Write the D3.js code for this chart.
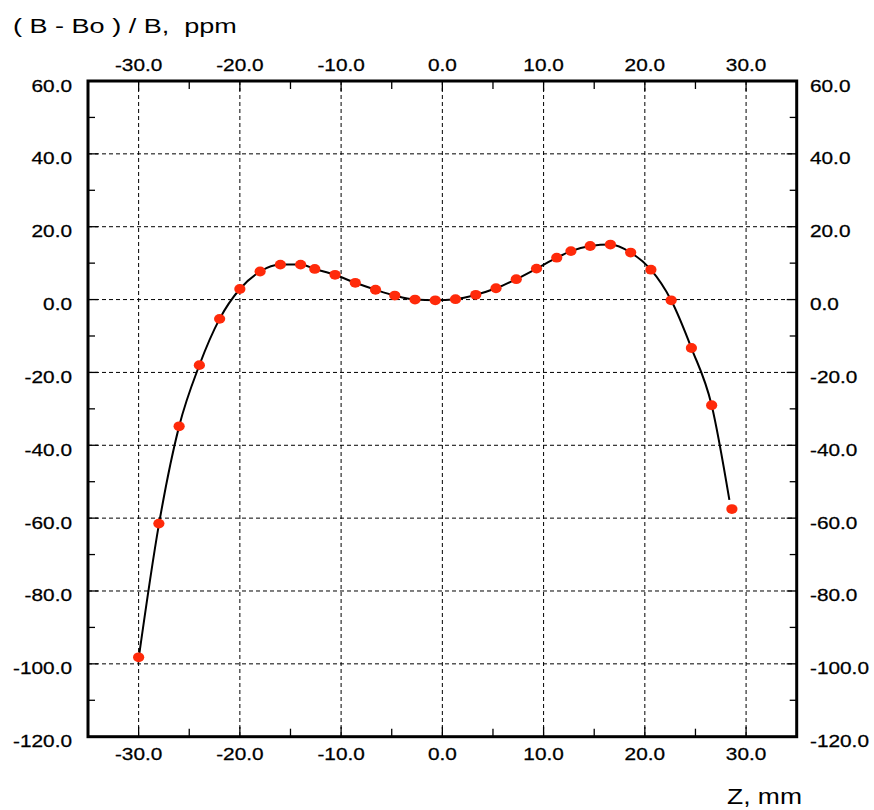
<!DOCTYPE html>
<html>
<head>
<meta charset="utf-8">
<script src="https://cdn.jsdelivr.net/npm/d3@7"></script>
<style>
  html, body { margin: 0; padding: 0; background: #fff; }
  svg { display: block; }
  text { font-family: "Liberation Sans", Arial, Helvetica, sans-serif; fill: #000; white-space: pre; }
</style>
</head>
<body>
<svg id="chart" width="874" height="810"></svg>
<script>
// ---- data ----
const zPoints = [-30, -28, -26, -24, -22, -20, -18, -16, -14, -12.6, -10.6, -8.6, -6.6, -4.7, -2.7, -0.7,
                 1.3, 3.3, 5.3, 7.3, 9.3, 11.3, 12.7, 14.6, 16.6, 18.6, 20.6, 22.6, 24.6, 26.6, 28.6];
const bPoints = [-98.2, -61.5, -34.8, -18.0, -5.3, 2.9, 7.7, 9.6, 9.6, 8.4, 6.8, 4.6, 2.7, 1.1, 0.0, -0.2,
                 0.1, 1.3, 3.1, 5.6, 8.5, 11.5, 13.3, 14.7, 15.1, 12.9, 8.2, -0.2, -13.3, -29.0, -57.5];
// fitted curve as drawn
const fitZ = [-30.05, -28, -26, -24, -22, -20, -18, -16, -14, -12.6, -10.6, -8.6, -6.6, -4.7, -2.7, -0.7,
              1.3, 3.3, 5.3, 7.3, 9.3, 11.3, 12.7, 14.6, 16.6, 18.6, 20.6, 22.6, 24.6, 26.6, 28.35];
const fitB = [-99.6, -61.8, -34.8, -18.0, -5.3, 2.9, 7.7, 9.6, 9.6, 8.4, 6.8, 4.6, 2.7, 1.1, 0.0, -0.2,
              0.1, 1.3, 3.1, 5.6, 8.5, 11.5, 13.3, 14.7, 15.1, 12.9, 8.2, -0.2, -13.3, -29.0, -55.0];
const xMajorTicks = [-30, -20, -10, 0, 10, 20, 30];
const xMinorTicks = [-25, -15, -5, 5, 15, 25];
const yMajorTicks = [60, 40, 20, 0, -20, -40, -60, -80, -100, -120];
const yMinorTicks = [50, 30, 10, -10, -30, -50, -70, -90, -110];
const yTitle = "( B - Bo ) / B,  ppm";
const xTitle = "Z, mm";

// ---- layout ----
const svg = d3.select("#chart");
const L = 88, R = 796.7, T = 81, B = 736.7;
const x = d3.scaleLinear().domain([-35, 35]).range([L, R]);
const y = d3.scaleLinear().domain([-120, 60]).range([B, T]);
const fmt = v => v.toFixed(1);
const STRETCH = 1.3;

svg.append("rect").attr("width", 874).attr("height", 810).attr("fill", "#fff");

// grid
const grid = svg.append("g").attr("stroke", "#000").attr("stroke-width", 1).attr("stroke-dasharray", "4,3");
grid.selectAll("line.v").data(xMajorTicks).join("line")
  .attr("x1", d => x(d)).attr("x2", d => x(d)).attr("y1", T).attr("y2", B);
grid.selectAll("line.h").data(yMajorTicks.filter(d => d !== 60 && d !== -120)).join("line")
  .attr("x1", L).attr("x2", R).attr("y1", d => y(d)).attr("y2", d => y(d));

// ticks (inward, all four sides)
const tk = svg.append("g").attr("stroke", "#000").attr("stroke-width", 1.3);
function vTicks(vals, len) {
  tk.selectAll(null).data(vals).join("line")
    .attr("x1", d => x(d)).attr("x2", d => x(d)).attr("y1", B).attr("y2", B - len);
  tk.selectAll(null).data(vals).join("line")
    .attr("x1", d => x(d)).attr("x2", d => x(d)).attr("y1", T).attr("y2", T + len);
}
function hTicks(vals, len) {
  tk.selectAll(null).data(vals).join("line")
    .attr("y1", d => y(d)).attr("y2", d => y(d)).attr("x1", L).attr("x2", L + len);
  tk.selectAll(null).data(vals).join("line")
    .attr("y1", d => y(d)).attr("y2", d => y(d)).attr("x1", R).attr("x2", R - len);
}
vTicks(xMajorTicks, 10); vTicks(xMinorTicks, 8);
hTicks(yMajorTicks, 10); hTicks(yMinorTicks, 7);

// frame
svg.append("rect").attr("x", L).attr("y", T).attr("width", R - L).attr("height", B - T)
  .attr("fill", "none").attr("stroke", "#000").attr("stroke-width", 3);

// stretched text helper
function label(px, py, str, anchor, size, sx) {
  const g = svg.append("g").attr("transform", `translate(${px},${py}) scale(${sx},1)`);
  g.append("text").attr("text-anchor", anchor).attr("font-size", size)
    .attr("stroke", "#000").attr("stroke-width", 0.25).text(str);
  return g;
}

// tick labels
xMajorTicks.forEach(v => {
  label(x(v), 759.5, fmt(v), "middle", 16, STRETCH);
  label(x(v), 71, fmt(v), "middle", 16, STRETCH);
});
yMajorTicks.forEach(v => {
  label(72, y(v) + 10.5, fmt(v), "end", 16, STRETCH);
  label(810, y(v) + 10.5, fmt(v), "start", 16, STRETCH);
});

// axis titles, stretched to the widths seen in the reference
function fitted(px, py, str, size, width) {
  const g = svg.append("g");
  const t = g.append("text").attr("font-size", size).attr("xml:space", "preserve").text(str);
  const w = t.node().getComputedTextLength();
  g.attr("transform", `translate(${px},${py}) scale(${width / w},1)`);
}
fitted(13, 33, yTitle, 21, 224);
fitted(727, 804, xTitle, 22, 75);

// fitted curve
const fit = fitZ.map((z, i) => [z, fitB[i]]);
svg.append("path").datum(fit)
  .attr("fill", "none").attr("stroke", "#000").attr("stroke-width", 2)
  .attr("d", d3.line().x(d => x(d[0])).y(d => y(d[1])).curve(d3.curveMonotoneX));

// measured points
svg.append("g").selectAll("ellipse").data(zPoints.map((z, i) => [z, bPoints[i]])).join("ellipse")
  .attr("cx", d => x(d[0])).attr("cy", d => y(d[1]))
  .attr("rx", 5.6).attr("ry", 4.9).attr("fill", "#ff2a0a");
</script>
</body>
</html>
